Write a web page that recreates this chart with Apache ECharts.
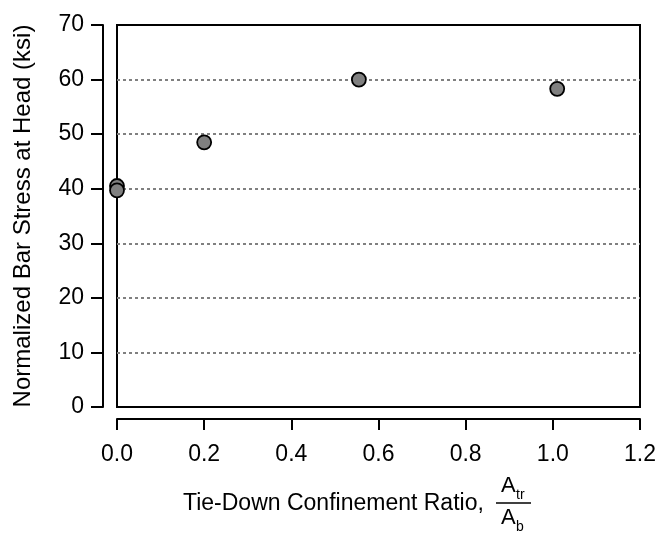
<!DOCTYPE html>
<html>
<head>
<meta charset="utf-8">
<script src="https://cdn.jsdelivr.net/npm/echarts@6/dist/echarts.min.js"></script>
<style>html,body{margin:0;padding:0;background:#fff}#c{width:660px;height:535px}</style>
</head>
<body>
<div id="c"></div>
<script>
const ratioX = [0.0, 0.0, 0.2, 0.555, 1.01];
const stressY = [40.5, 39.7, 48.5, 60.0, 58.3];
const xTicks = ['0.0','0.2','0.4','0.6','0.8','1.0','1.2'];
const yTicks = [0,10,20,30,40,50,60,70];
const yTitle = 'Normalized Bar Stress at Head (ksi)';
const xTitle = 'Tie-Down Confinement Ratio,';

const FONT = 'Liberation Sans, Arial, sans-serif';
const chart = echarts.init(document.getElementById('c'), null, {renderer:'canvas'});
const pts = ratioX.map((x,i)=>[x, stressY[i]]);
chart.setOption({
  animation:false,
  backgroundColor:'#fff',
  grid:{left:117, right:20, top:25, bottom:128, show:true, borderColor:'#000', borderWidth:2, backgroundColor:'transparent'},
  xAxis:{
    type:'value', min:0, max:1.2, interval:0.2, offset:12,
    axisLine:{show:true, onZero:false, lineStyle:{color:'#000', width:2}},
    axisTick:{show:true, length:11, lineStyle:{color:'#000', width:2}},
    axisLabel:{fontFamily:FONT, fontSize:23, color:'#000', margin:24,
      formatter:(v)=>xTicks[Math.round(v/0.2)]},
    splitLine:{show:false}
  },
  yAxis:{
    type:'value', min:0, max:70, interval:10, offset:14,
    name:yTitle, nameLocation:'middle', nameGap:68, nameRotate:90,
    nameTextStyle:{fontFamily:FONT, fontSize:24, color:'#000'},
    axisLine:{show:true, onZero:false, lineStyle:{color:'#000', width:2}},
    axisTick:{show:true, length:12, lineStyle:{color:'#000', width:2}},
    axisLabel:{fontFamily:FONT, fontSize:23, color:'#000', margin:19,
      formatter:(v)=>String(yTicks[Math.round(v/10)])},
    splitLine:{show:true, showMinLine:false, showMaxLine:false, lineStyle:{color:'#808080', width:2, type:[3,3]}}
  },
  series:[{
    type:'scatter', data:pts, symbol:'circle', symbolSize:14,
    itemStyle:{color:'#808080', borderColor:'#000', borderWidth:1.8, opacity:1}
  }],
  graphic:[
    {type:'text', left:183, top:492, style:{text:xTitle, font:'23px '+FONT, fill:'#000'}},
    {type:'text', left:501, top:475, style:{text:'A', font:'22px '+FONT, fill:'#000'}},
    {type:'text', left:516, top:488, style:{text:'tr', font:'14px '+FONT, fill:'#000'}},
    {type:'line', shape:{x1:496, y1:503, x2:531, y2:503}, style:{stroke:'#000', lineWidth:1.5}},
    {type:'text', left:501, top:507, style:{text:'A', font:'22px '+FONT, fill:'#000'}},
    {type:'text', left:516, top:520, style:{text:'b', font:'14px '+FONT, fill:'#000'}}
  ]
});
</script>
</body>
</html>
